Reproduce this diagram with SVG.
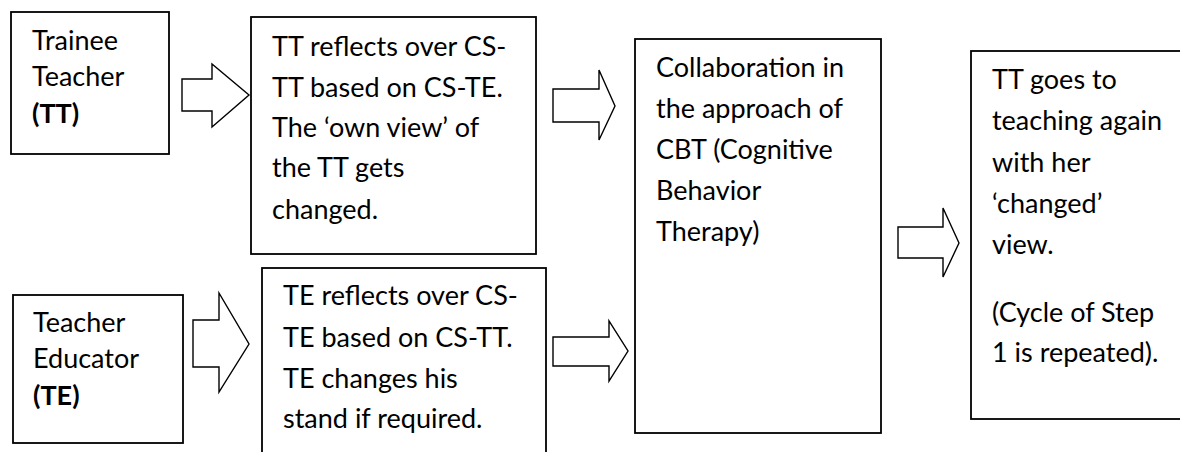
<svg xmlns="http://www.w3.org/2000/svg" width="1180" height="452" viewBox="0 0 1180 452">
  <style>
    .box { fill: #ffffff; stroke: #000000; stroke-width: 1.8; }
    .arrow { fill: #ffffff; stroke: #000000; stroke-width: 1.4; stroke-linejoin: miter; }
    text { font-family: Lato, "Open Sans", "Liberation Sans", sans-serif; font-size: 27px; fill: #000000; }
    .b { font-weight: 700; }
  </style>
  <rect width="1180" height="452" fill="#ffffff"/>

  <!-- Block arrows between the steps -->
  <g id="connectors">
    <polygon class="arrow" points="182,79 212,79 212,64 249,95 212,127 212,111 182,111"/>
    <polygon class="arrow" points="193,320 219,320 219,293 249,344 219,392 219,367 193,367"/>
    <polygon class="arrow" points="553,89 599,89 599,70 615,106 599,140 599,122 553,122"/>
    <polygon class="arrow" points="553,337 609,337 609,321 628,351 609,381 609,366 553,366"/>
    <polygon class="arrow" points="898,227 943,227 943,208 959,243 943,277 943,258 898,258"/>
  </g>

  <g id="trainee-teacher">
    <rect class="box" x="11" y="12" width="158" height="142"/>
    <text x="32" y="50">Trainee</text>
    <text x="32" y="86">Teacher</text>
    <text x="32" y="123" class="b">(TT)</text>
  </g>

  <g id="teacher-educator">
    <rect class="box" x="13" y="295" width="170" height="148"/>
    <text x="33" y="332">Teacher</text>
    <text x="33" y="368">Educator</text>
    <text x="33" y="405" class="b">(TE)</text>
  </g>

  <g id="tt-reflects">
    <rect class="box" x="251" y="17" width="285" height="237"/>
    <text x="272" y="56">TT reflects over CS-</text>
    <text x="272" y="97">TT based on CS-TE.</text>
    <text x="272" y="137">The ‘own view’ of</text>
    <text x="272" y="177">the TT gets</text>
    <text x="272" y="219">changed.</text>
  </g>

  <g id="te-reflects">
    <rect class="box" x="262" y="268" width="284" height="200"/>
    <text x="283" y="305">TE reflects over CS-</text>
    <text x="283" y="347">TE based on CS-TT.</text>
    <text x="283" y="388">TE changes his</text>
    <text x="283" y="428">stand if required.</text>
  </g>

  <g id="collaboration">
    <rect class="box" x="635" y="39" width="246" height="394"/>
    <text x="656" y="77">Collaboration in</text>
    <text x="656" y="118">the approach of</text>
    <text x="656" y="159">CBT (Cognitive</text>
    <text x="656" y="200">Behavior</text>
    <text x="656" y="241">Therapy)</text>
  </g>

  <g id="teaching-again">
    <rect class="box" x="971" y="51" width="220" height="368"/>
    <text x="992" y="89">TT goes to</text>
    <text x="992" y="130">teaching again</text>
    <text x="992" y="172">with her</text>
    <text x="992" y="213">‘changed’</text>
    <text x="992" y="254">view.</text>
    <text x="992" y="322">(Cycle of Step</text>
    <text x="992" y="362">1 is repeated).</text>
  </g>
</svg>
